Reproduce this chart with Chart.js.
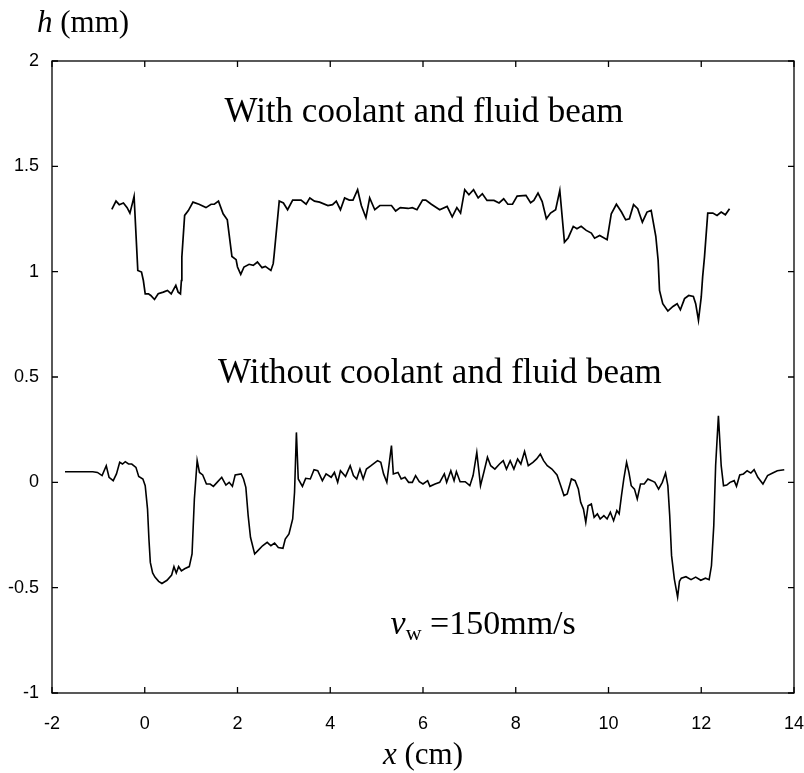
<!DOCTYPE html>
<html>
<head>
<meta charset="utf-8">
<script src="https://cdn.jsdelivr.net/npm/chart.js@4.4.1/dist/chart.umd.min.js"></script>
<style>
html, body { margin: 0; padding: 0; background: #fff; }
#wrap { width: 804px; height: 773px; }
</style>
</head>
<body>
<div id="wrap"><canvas id="chart"></canvas></div>
<script>
// tick values / labels
const xTickValues = [-2, 0, 2, 4, 6, 8, 10, 12, 14];
const xTickLabels = ['-2', '0', '2', '4', '6', '8', '10', '12', '14'];
const yTickValues = [-1, -0.5, 0, 0.5, 1, 1.5, 2];
const yTickLabels = ['-1', '-0.5', '0', '0.5', '1', '1.5', '2'];

// with coolant and fluid beam (x in cm, h in mm)
const withX = [-0.71, -0.62, -0.55, -0.46, -0.38, -0.32, -0.26, -0.23, -0.15, -0.07, -0.03, 0.01, 0.08, 0.13, 0.21, 0.29, 0.40, 0.49, 0.57, 0.67,
  0.72, 0.77, 0.79, 0.80, 0.86, 0.94, 1.04, 1.17, 1.32, 1.43, 1.50, 1.59, 1.69, 1.78, 1.88, 1.97, 2.00, 2.07, 2.14, 2.25,
  2.34, 2.43, 2.53, 2.60, 2.72, 2.77, 2.79, 2.90, 2.99, 3.08, 3.19, 3.37, 3.48, 3.56, 3.66, 3.77, 3.95, 4.05, 4.13, 4.22,
  4.31, 4.41, 4.49, 4.59, 4.67, 4.77, 4.85, 4.96, 5.07, 5.32, 5.41, 5.51, 5.68, 5.77, 5.87, 5.99, 6.06, 6.18, 6.36, 6.52,
  6.63, 6.73, 6.81, 6.90, 6.99, 7.09, 7.19, 7.28, 7.38, 7.53, 7.64, 7.74, 7.83, 7.93, 8.03, 8.22, 8.32, 8.39, 8.48, 8.57,
  8.66, 8.75, 8.86, 8.95, 9.05, 9.13, 9.24, 9.32, 9.41, 9.52, 9.63, 9.70, 9.81, 9.97, 10.06, 10.17, 10.28, 10.37, 10.45, 10.54,
  10.63, 10.73, 10.83, 10.92, 11.02, 11.07, 11.10, 11.17, 11.28, 11.39, 11.48, 11.55, 11.64, 11.73, 11.83, 11.88, 11.94, 12.00, 12.03, 12.07,
  12.14, 12.25, 12.34, 12.43, 12.52, 12.61];
const withH = [1.296, 1.335, 1.318, 1.326, 1.304, 1.278, 1.33, 1.357, 1.006, 0.998, 0.958, 0.895, 0.895, 0.887, 0.868, 0.895, 0.903, 0.911, 0.895, 0.935,
  0.903, 0.895, 0.958, 1.069, 1.267, 1.29, 1.33, 1.32, 1.304, 1.32, 1.32, 1.335, 1.275, 1.246, 1.072, 1.057, 1.022, 0.987, 1.022, 1.035,
  1.03, 1.046, 1.019, 1.025, 1.006, 1.038, 1.08, 1.335, 1.326, 1.294, 1.34, 1.34, 1.32, 1.35, 1.335, 1.33, 1.314, 1.318, 1.335, 1.294,
  1.35, 1.34, 1.34, 1.389, 1.314, 1.256, 1.35, 1.294, 1.314, 1.314, 1.288, 1.304, 1.30, 1.304, 1.294, 1.34, 1.34, 1.32, 1.294, 1.31,
  1.26, 1.304, 1.278, 1.389, 1.365, 1.389, 1.35, 1.37, 1.338, 1.338, 1.326, 1.346, 1.32, 1.32, 1.359, 1.362, 1.327, 1.338, 1.373, 1.333,
  1.251, 1.278, 1.294, 1.386, 1.14, 1.16, 1.215, 1.204, 1.215, 1.196, 1.183, 1.159, 1.172, 1.152, 1.275, 1.32, 1.283, 1.246, 1.251, 1.318,
  1.299, 1.235, 1.283, 1.291, 1.168, 1.054, 0.911, 0.848, 0.813, 0.835, 0.848, 0.819, 0.872, 0.887, 0.882, 0.848, 0.769, 0.88, 0.975, 1.07,
  1.278, 1.278, 1.267, 1.283, 1.27, 1.299];

// without coolant and fluid beam
const withoutX = [-1.72, -1.12, -1.02, -0.92, -0.83, -0.77, -0.68, -0.61, -0.54, -0.48, -0.42, -0.35, -0.28, -0.19, -0.13, -0.04, 0.01, 0.06, 0.09, 0.12,
  0.17, 0.22, 0.30, 0.37, 0.48, 0.58, 0.63, 0.68, 0.73, 0.79, 0.86, 0.96, 1.02, 1.07, 1.13, 1.18, 1.25, 1.33, 1.41, 1.48,
  1.56, 1.66, 1.75, 1.82, 1.89, 1.95, 2.08, 2.13, 2.18, 2.23, 2.28, 2.37, 2.44, 2.54, 2.64, 2.72, 2.80, 2.88, 2.98, 3.03,
  3.11, 3.19, 3.23, 3.27, 3.31, 3.40, 3.47, 3.57, 3.65, 3.73, 3.83, 3.91, 4.02, 4.09, 4.16, 4.22, 4.33, 4.43, 4.50, 4.57,
  4.64, 4.71, 4.78, 4.88, 5.02, 5.09, 5.15, 5.22, 5.32, 5.36, 5.46, 5.53, 5.61, 5.69, 5.77, 5.84, 5.92, 6.00, 6.10, 6.15,
  6.26, 6.36, 6.46, 6.51, 6.60, 6.67, 6.72, 6.80, 6.91, 7.01, 7.08, 7.16, 7.24, 7.32, 7.39, 7.46, 7.55, 7.65, 7.73, 7.80,
  7.88, 7.96, 8.04, 8.11, 8.19, 8.27, 8.37, 8.45, 8.53, 8.60, 8.68, 8.78, 8.89, 8.97, 9.04, 9.11, 9.20, 9.28, 9.35, 9.40,
  9.46, 9.51, 9.56, 9.63, 9.69, 9.76, 9.82, 9.90, 9.97, 10.04, 10.11, 10.18, 10.23, 10.28, 10.33, 10.39, 10.44, 10.49, 10.56, 10.62,
  10.69, 10.77, 10.85, 10.93, 11.00, 11.08, 11.16, 11.23, 11.28, 11.32, 11.36, 11.42, 11.49, 11.53, 11.57, 11.67, 11.78, 11.88, 11.99, 12.09,
  12.17, 12.22, 12.27, 12.31, 12.37, 12.43, 12.48, 12.55, 12.62, 12.71, 12.76, 12.83, 12.91, 12.99, 13.07, 13.14, 13.22, 13.33, 13.43, 13.54,
  13.64, 13.79];
const withoutH = [0.050, 0.050, 0.047, 0.032, 0.079, 0.024, 0.008, 0.040, 0.095, 0.087, 0.098, 0.087, 0.087, 0.071, 0.028, 0.016, -0.016, -0.127, -0.269, -0.380,
  -0.430, -0.450, -0.470, -0.480, -0.465, -0.440, -0.400, -0.430, -0.400, -0.420, -0.410, -0.400, -0.340, -0.079, 0.103, 0.047, 0.035, -0.008, -0.008, -0.019,
  0, 0.024, -0.013, 0, -0.019, 0.035, 0.040, 0.016, -0.024, -0.158, -0.261, -0.340, -0.324, -0.301, -0.285, -0.301, -0.288, -0.309, -0.313, -0.269,
  -0.245, -0.174, -0.047, 0.237, 0.016, -0.019, 0.019, 0.016, 0.060, 0.055, 0.008, 0.040, 0.024, 0.047, 0, 0.055, 0.028, 0.079, 0.032, 0.016,
  0.063, 0.016, 0.063, 0.079, 0.103, 0.095, 0.040, 0, 0.174, 0.040, 0.047, 0.016, 0.024, 0, 0, 0.032, 0.003, -0.008, 0.008, -0.019,
  -0.008, 0, 0.040, 0, 0.055, 0.008, 0.051, 0.003, 0.003, -0.016, 0.032, 0.142, -0.016, 0.055, 0.119, 0.079, 0.063, 0.087, 0.103, 0.063,
  0.103, 0.063, 0.111, 0.087, 0.146, 0.079, 0.095, 0.111, 0.134, 0.103, 0.079, 0.063, 0.035, -0.016, -0.063, -0.055, 0.016, 0.008, -0.032, -0.095,
  -0.127, -0.190, -0.111, -0.103, -0.166, -0.150, -0.174, -0.158, -0.174, -0.142, -0.182, -0.134, -0.150, -0.063, 0.016, 0.095, 0.047, -0.016, -0.032, -0.079,
  -0.008, -0.008, 0.016, 0.008, 0, -0.032, 0, 0.044, -0.016, -0.158, -0.348, -0.459, -0.545, -0.470, -0.455, -0.448, -0.462, -0.450, -0.465, -0.455,
  -0.462, -0.396, -0.206, 0.079, 0.316, 0.079, -0.016, -0.013, 0, 0.008, -0.019, 0.035, 0.040, 0.055, 0.044, 0.060, 0.024, -0.008, 0.032, 0.044,
  0.055, 0.060];

const SERIF = '"Liberation Serif", "Times New Roman", serif';
const SANS = '"Liberation Sans", Arial, Helvetica, sans-serif';

function toPoints(xs, ys) {
  return xs.map((x, i) => ({ x: x, y: ys[i] }));
}

// draw a run of text pieces with different styles
function drawParts(ctx, parts, x, y) {
  let cx = x;
  parts.forEach(p => {
    ctx.font = (p.italic ? 'italic ' : '') + p.size + 'px ' + SERIF;
    ctx.fillText(p.t, cx, y + (p.dy || 0));
    cx += ctx.measureText(p.t).width;
  });
}
function partsWidth(ctx, parts) {
  return parts.reduce((w, p) => {
    ctx.font = (p.italic ? 'italic ' : '') + p.size + 'px ' + SERIF;
    return w + ctx.measureText(p.t).width;
  }, 0);
}

const framePlugin = {
  id: 'frame',
  afterDraw(chart, args, opts) {
    const { ctx, chartArea: a, scales: { x, y } } = chart;
    ctx.save();
    ctx.strokeStyle = '#000';
    ctx.lineWidth = 1.3;
    ctx.strokeRect(a.left, a.top, a.right - a.left, a.bottom - a.top);
    const tl = opts.tickLength;
    ctx.beginPath();
    xTickValues.forEach(v => {
      const px = x.getPixelForValue(v);
      ctx.moveTo(px, a.bottom); ctx.lineTo(px, a.bottom - tl);
      ctx.moveTo(px, a.top); ctx.lineTo(px, a.top + tl);
    });
    yTickValues.forEach(v => {
      const py = y.getPixelForValue(v);
      ctx.moveTo(a.left, py); ctx.lineTo(a.left + tl, py);
      ctx.moveTo(a.right, py); ctx.lineTo(a.right - tl, py);
    });
    ctx.stroke();

    ctx.fillStyle = '#000';
    ctx.textBaseline = 'alphabetic';
    ctx.textAlign = 'left';
    // axis titles
    drawParts(ctx, [{ t: 'h', italic: true, size: 31 }, { t: ' (mm)', size: 31 }], opts.hTitle.left, opts.hTitle.baseline);
    const xt = [{ t: 'x', italic: true, size: 31 }, { t: ' (cm)', size: 31 }];
    drawParts(ctx, xt, (a.left + a.right) / 2 - partsWidth(ctx, xt) / 2, opts.xTitleBaseline);
    // labels inside the plot, placed in data units
    opts.labels.forEach(l => {
      drawParts(ctx, l.parts, x.getPixelForValue(l.x), y.getPixelForValue(l.y));
    });
    ctx.restore();
  }
};

new Chart(document.getElementById('chart'), {
  type: 'scatter',
  data: {
    datasets: [
      {
        label: 'With coolant and fluid beam',
        data: toPoints(withX, withH),
        showLine: true,
        borderColor: '#000',
        borderWidth: 1.7,
        pointRadius: 0,
        tension: 0
      },
      {
        label: 'Without coolant and fluid beam',
        data: toPoints(withoutX, withoutH),
        showLine: true,
        borderColor: '#000',
        borderWidth: 1.6,
        pointRadius: 0,
        tension: 0
      }
    ]
  },
  options: {
    responsive: true,
    maintainAspectRatio: false,
    animation: false,
    events: [],
    layout: { padding: { left: 0, top: 61, right: 10, bottom: 0 } },
    plugins: {
      legend: { display: false },
      tooltip: { enabled: false },
      frame: {
        tickLength: 6,
        hTitle: { left: 37, baseline: 32 },
        xTitleBaseline: 764,
        labels: [
          { x: 1.72, y: 1.71, parts: [{ t: 'With coolant and fluid beam', size: 35 }] },
          { x: 1.58, y: 0.47, parts: [{ t: 'Without coolant and fluid beam', size: 35 }] },
          { x: 5.3, y: -0.72, parts: [{ t: 'v', italic: true, size: 34 }, { t: 'w', size: 22, dy: 6 }, { t: ' =150mm/s', size: 34 }] }
        ]
      }
    },
    scales: {
      x: {
        type: 'linear',
        min: -2,
        max: 14,
        afterBuildTicks: s => { s.ticks = xTickValues.map(v => ({ value: v })); },
        afterFit: s => { s.height = 80; s.paddingLeft = 0; s.paddingRight = 0; },
        ticks: {
          callback: v => xTickLabels[xTickValues.indexOf(v)],
          color: '#000',
          font: { family: SANS, size: 18 },
          padding: 12,
          maxRotation: 0
        },
        grid: { display: false },
        border: { display: false }
      },
      y: {
        type: 'linear',
        min: -1,
        max: 2,
        afterBuildTicks: s => { s.ticks = yTickValues.map(v => ({ value: v })); },
        afterFit: s => { s.width = 52; },
        ticks: {
          callback: v => yTickLabels[yTickValues.indexOf(v)],
          color: '#000',
          font: { family: SANS, size: 18 },
          padding: 5
        },
        grid: { display: false },
        border: { display: false }
      }
    }
  },
  plugins: [framePlugin]
});
</script>
</body>
</html>
